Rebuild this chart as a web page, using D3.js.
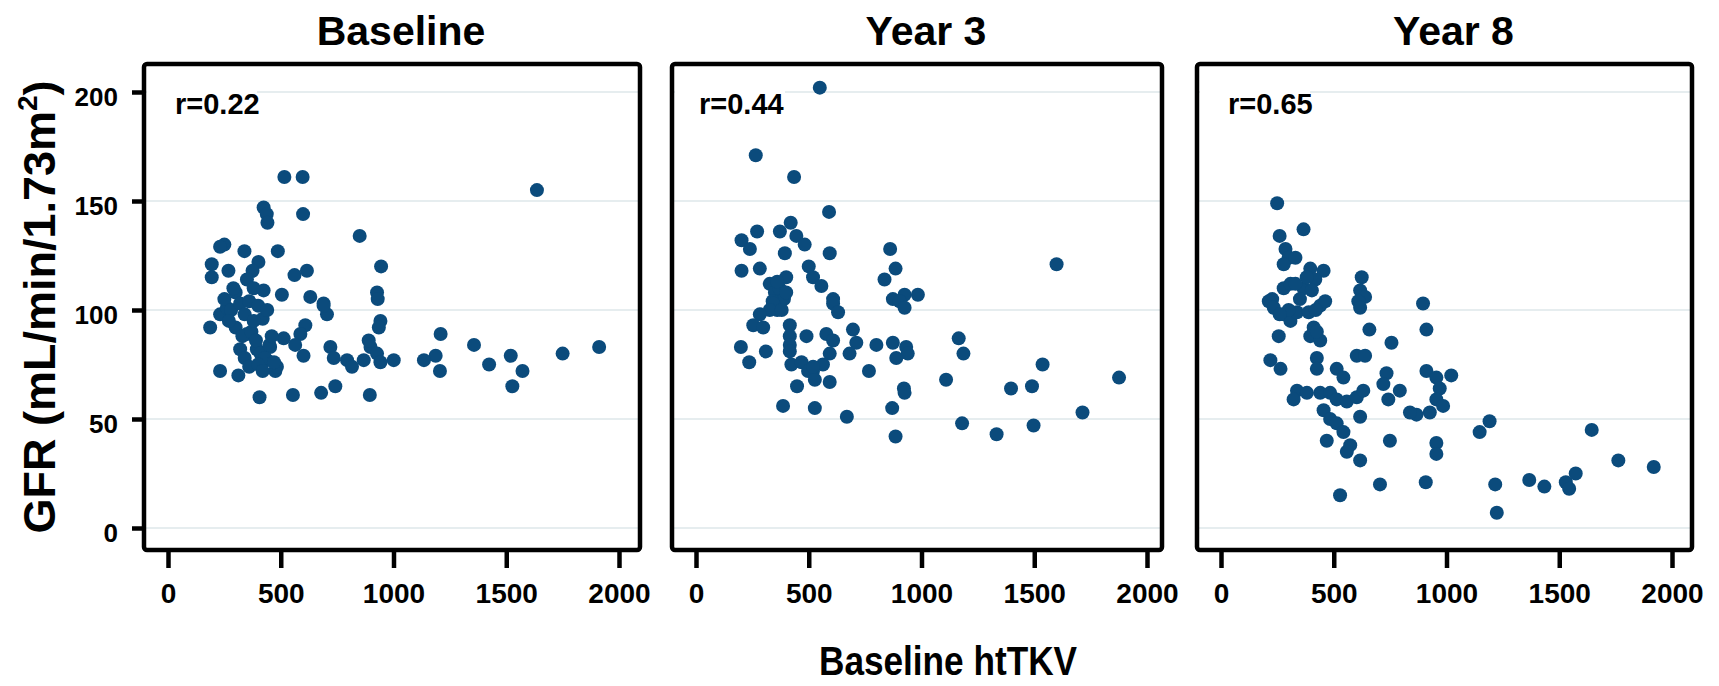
<!DOCTYPE html>
<html>
<head>
<meta charset="utf-8">
<script src="https://cdn.jsdelivr.net/npm/d3@7"></script>
<style>
  body { margin: 0; background: #fff; }
  svg { display: block; font-family: "Liberation Sans", Arial, sans-serif; font-weight: bold; }
  .grid line { stroke: #e6edef; stroke-width: 2; }
  .axis path { display: none; }
  .axis line { stroke: #000; stroke-width: 4.5; }
  .axis text { fill: #000; font-weight: bold; }
</style>
</head>
<body>
<div id="chart"></div>
<script>
// values: [htTKV, GFR]
const baselinePoints = [
  [516,161],[597,161],[1636,155],[424,147],[438,144],[441,140],[599,144],[850,134],
  [250,130],[231,129],[339,127],[487,127],[401,122],[194,121],[194,115],[268,118],
  [375,118],[945,120],[561,116],[616,118],[927,108],[930,105],[505,107],[631,106],
  [690,103],[350,114],[424,109],[942,95],[935,92],[1209,89],[1357,84],[1912,83],
  [1750,80],[1520,79],[1572,72],[1527,65],[1424,75],[1187,79],[1135,77],[1206,72],
  [1001,77],[898,83],[927,80],[890,86],[868,77],[942,76],[895,61],[742,65],
  [679,62],[554,61],[406,60],[231,72],[312,70],[476,72],[720,83],[735,78],
  [794,77],[816,74],[705,98],[690,102],[609,93],[587,89],[513,87],[564,84],
  [601,79],[187,92],[231,98],[261,101],[483,74],[439,77],[350,89],[320,82],
  [394,82],[453,83],[250,105],[280,100],[300,108],[320,103],[340,98],[360,104],
  [380,110],[400,102],[420,96],[440,100],[300,92],[330,88],[370,90],[390,86],
  [410,80],[430,78],[450,84],[470,76],[340,78],[360,74],[400,75],[420,72],
  [460,88],[380,95],[270,95],[290,110]
];

const year3Points = [
  [549,202],[265,171],[435,161],[590,145],[271,136],[372,136],[420,140],[445,134],
  [482,130],[202,132],[239,128],[394,126],[593,126],[861,128],[885,119],[836,114],
  [1599,121],[202,118],[283,119],[500,120],[519,115],[556,111],[327,112],[350,108],
  [370,110],[390,105],[360,100],[340,104],[400,115],[608,105],[873,105],[925,107],
  [984,107],[342,103],[327,100],[283,98],[608,103],[630,99],[903,104],[925,101],
  [254,93],[298,92],[416,93],[416,88],[416,84],[416,81],[490,88],[578,89],
  [608,86],[593,80],[563,75],[519,72],[696,91],[711,85],[681,80],[800,84],
  [873,85],[932,83],[939,80],[888,78],[199,83],[310,81],[236,76],[423,75],
  [468,76],[497,72],[527,68],[519,74],[448,65],[593,67],[767,72],[922,64],
  [925,62],[1165,87],[1186,80],[1109,68],[1537,75],[1397,64],[1490,65],[1876,69],
  [1714,53],[386,56],[527,55],[669,51],[870,55],[885,42],[1180,48],[1333,43],
  [1497,47],[360,113],[380,100],[400,108]
];

const year8Points = [
  [249,149],[260,134],[366,137],[286,128],[300,124],[278,121],[330,124],[396,119],
  [455,118],[418,114],[366,110],[403,109],[278,110],[308,112],[227,105],[624,115],
  [617,109],[639,106],[896,103],[212,104],[234,101],[278,98],[308,95],[337,99],
  [389,99],[440,102],[462,104],[609,104],[617,101],[411,92],[396,88],[440,86],
  [425,90],[256,88],[658,91],[911,91],[756,85],[219,77],[264,73],[425,78],
  [425,73],[602,79],[639,79],[513,73],[543,69],[734,71],[720,66],[742,59],
  [793,63],[911,72],[955,69],[970,64],[955,59],[985,56],[926,53],[867,52],
  [838,53],[1021,70],[337,63],[322,59],[381,62],[440,62],[484,62],[513,59],
  [558,58],[602,60],[631,63],[617,51],[455,54],[484,50],[513,48],[543,44],
  [469,40],[573,38],[558,35],[617,31],[749,40],[955,39],[955,34],[705,20],
  [528,15],[908,21],[1191,49],[1147,44],[1216,20],[1223,7],[1367,22],[1434,19],
  [1529,21],[1544,18],[1573,25],[1644,45],[1762,31],[1919,28],[350,105],[380,115],
  [300,100],[260,98],[330,112],[420,100]
];

const panelTitles = ["Baseline", "Year 3", "Year 8"];
const correlations = ["r=0.22", "r=0.44", "r=0.65"];
const xTicks = [0, 500, 1000, 1500, 2000];
const yTicks = [0, 50, 100, 150, 200];

const width = 1719;
const height = 686;
const color = "#0b4b7c";
const radius = 7;

// frame boxes: [left, right]
const frames = [[144, 640], [672, 1162], [1197, 1692]];
const frameTop = 64;
const frameBottom = 550;

const y = d3.scaleLinear().domain([0, 200]).range([528, 92]);

const svg = d3.select("#chart")
  .append("svg")
  .attr("width", width)
  .attr("height", height);

const panels = [baselinePoints, year3Points, year8Points];

panels.forEach((points, i) => {
  const [left, right] = frames[i];
  const x = d3.scaleLinear().domain([0, 2000]).range([left + 24, left + 475]);
  const g = svg.append("g");

  g.append("text")
    .attr("x", (left + right) / 2 + 9)
    .attr("y", 45)
    .attr("text-anchor", "middle")
    .attr("font-size", 41)
    .text(panelTitles[i]);

  g.append("g")
    .attr("class", "grid")
    .selectAll("line")
    .data(yTicks)
    .join("line")
    .attr("x1", left)
    .attr("x2", right)
    .attr("y1", (d) => y(d))
    .attr("y2", (d) => y(d));

  g.append("rect")
    .attr("x", left + 3)
    .attr("y", 82)
    .attr("width", 110)
    .attr("height", 18)
    .attr("fill", "#fff");

  g.append("text")
    .attr("x", left + (i === 1 ? 27 : 31))
    .attr("y", 114)
    .attr("font-size", 29)
    .text(correlations[i]);

  g.append("g")
    .selectAll("circle")
    .data(points)
    .join("circle")
    .attr("cx", (d) => x(d[0]))
    .attr("cy", (d) => y(d[1]))
    .attr("r", radius)
    .attr("fill", color);

  g.append("rect")
    .attr("x", left)
    .attr("y", frameTop)
    .attr("width", right - left)
    .attr("height", frameBottom - frameTop)
    .attr("rx", 3)
    .attr("fill", "none")
    .attr("stroke", "#000")
    .attr("stroke-width", 4.5);

  g.append("g")
    .attr("class", "axis")
    .attr("transform", `translate(0,${frameBottom + 2})`)
    .call(d3.axisBottom(x).tickValues(xTicks).tickSize(16).tickPadding(15).tickFormat(d3.format("d")))
    .selectAll("text")
    .attr("font-size", 28);

  if (i === 0) {
    g.append("g")
      .attr("class", "axis")
      .attr("transform", `translate(${left - 2},0)`)
      .call(d3.axisLeft(y).tickValues(yTicks).tickSize(10).tickPadding(14))
      .selectAll("text")
      .attr("font-size", 26)
      .attr("dy", "0.5em");
  }
});

const yLabel = svg.append("text")
  .attr("transform", "translate(55,307)rotate(-90)")
  .attr("text-anchor", "middle")
  .attr("font-size", 45);
yLabel.append("tspan").text("GFR (mL/min/1.73m");
yLabel.append("tspan").attr("font-size", 28).attr("dy", -18).text("2");
yLabel.append("tspan").attr("dy", 18).text(")");

// axis title is a bit condensed in the original
svg.append("text")
  .attr("transform", "translate(948,675)scale(0.88,1)")
  .attr("text-anchor", "middle")
  .attr("font-size", 40)
  .text("Baseline htTKV");
</script>
</body>
</html>
